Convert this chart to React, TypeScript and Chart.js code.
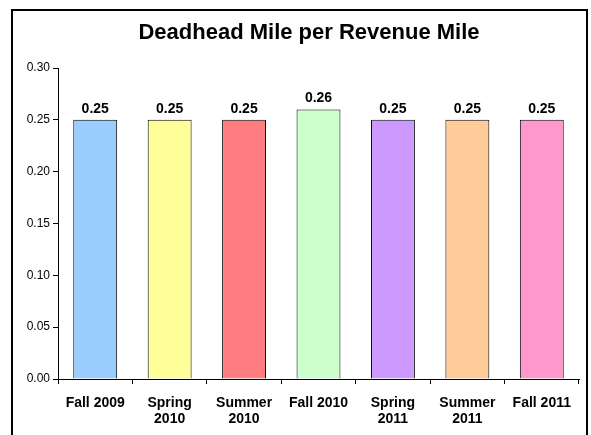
import React, { useEffect, useRef } from "react";
import { Chart, registerables } from "chart.js";

Chart.register(...registerables);

const categories: (string | string[])[] = [
  "Fall 2009",
  ["Spring", "2010"],
  ["Summer", "2010"],
  "Fall 2010",
  ["Spring", "2011"],
  ["Summer", "2011"],
  "Fall 2011",
];
const values = [0.25, 0.25, 0.25, 0.26, 0.25, 0.25, 0.25];
const barColors = ["#99CCFF", "#FFFF99", "#FF7C80", "#CCFFCC", "#CC99FF", "#FFCC99", "#FF99CC"];
const titleText = "Deadhead Mile per Revenue Mile";
const yMin = 0;
const yMax = 0.3;
const yStep = 0.05;

const FONT = "'Liberation Sans', Arial, Helvetica, sans-serif";

const valueLabels = {
  id: "valueLabels",
  afterDatasetsDraw(chart: any) {
    const ctx = chart.ctx;
    const meta = chart.getDatasetMeta(0);
    ctx.save();
    ctx.font = `bold 14px ${FONT}`;
    ctx.fillStyle = "#000";
    ctx.textAlign = "center";
    ctx.textBaseline = "alphabetic";
    meta.data.forEach((bar: any, i: number) => {
      const v = chart.data.datasets[0].data[i] as number;
      ctx.fillText(v.toFixed(2), bar.x, bar.y - 7);
    });
    ctx.restore();
  },
};

const titlePlugin = {
  id: "customTitle",
  afterDraw(chart: any) {
    const ctx = chart.ctx;
    ctx.save();
    ctx.font = `bold 22px ${FONT}`;
    ctx.fillStyle = "#000";
    ctx.textAlign = "center";
    ctx.textBaseline = "middle";
    ctx.fillText(titleText, (26 + chart.chartArea.right) / 2, 22);
    ctx.restore();
  },
};

export default function App() {
  const ref = useRef<HTMLCanvasElement | null>(null);
  useEffect(() => {
    if (!ref.current) return;
    const chart = new Chart(ref.current, {
      type: "bar",
      data: {
        labels: categories,
        datasets: [
          {
            data: values,
            backgroundColor: barColors,
            borderColor: "#000",
            borderWidth: 1,
            barPercentage: 0.59,
            categoryPercentage: 1,
          },
        ],
      },
      options: {
        animation: false,
        responsive: false,
        maintainAspectRatio: false,
        layout: { padding: { left: 14, right: 7, top: 57, bottom: 0 } },
        plugins: {
          legend: { display: false },
          tooltip: { enabled: false },
          title: { display: false },
        },
        scales: {
          x: {
            afterFit: (s: any) => {
              s.height = 62;
            },
            grid: {
              offset: true,
              drawOnChartArea: false,
              tickLength: 5,
              color: "#000",
            },
            border: { color: "#000", width: 1 },
            ticks: {
              color: "#000",
              padding: 11,
              maxRotation: 0,
              autoSkip: false,
              font: { family: FONT, size: 14, weight: "bold", lineHeight: 1.15 },
            },
          },
          y: {
            min: yMin,
            max: yMax,
            afterFit: (s: any) => {
              s.width = 31;
            },
            grid: { drawOnChartArea: false, tickLength: 5, color: "#000" },
            border: { color: "#000", width: 1 },
            ticks: {
              stepSize: yStep,
              color: "#000",
              padding: 3,
              font: { family: FONT, size: 12 },
              callback: (v: any) => Number(v).toFixed(2),
            },
          },
        },
      },
      plugins: [valueLabels, titlePlugin],
    });
    return () => chart.destroy();
  }, []);
  return (
    <div
      style={{
        position: "absolute",
        left: 11,
        top: 9,
        width: 573,
        height: 440,
        border: "2px solid #000",
        background: "#fff",
      }}
    >
      <canvas ref={ref} width={573} height={430} style={{ display: "block" }} />
    </div>
  );
}
